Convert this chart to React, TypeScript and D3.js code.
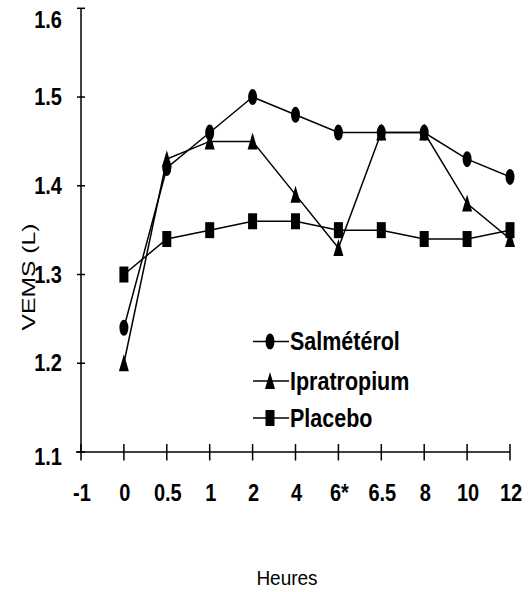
import React, { useRef, useEffect } from 'react';
import * as d3 from 'd3';

const hours = ['-1', '0', '0.5', '1', '2', '4', '6*', '6.5', '8', '10', '12'];
const yTicks = [1.1, 1.2, 1.3, 1.4, 1.5, 1.6];

// values from hour "0" onwards (nothing at -1)
const salmeterol = [1.24, 1.42, 1.46, 1.5, 1.48, 1.46, 1.46, 1.46, 1.43, 1.41];
const ipratropium = [1.2, 1.43, 1.45, 1.45, 1.39, 1.33, 1.46, 1.46, 1.38, 1.34];
const placebo = [1.3, 1.34, 1.35, 1.36, 1.36, 1.35, 1.35, 1.34, 1.34, 1.35];

const seriesNames = ['Salmétérol', 'Ipratropium', 'Placebo'];
const seriesShapes = ['circle', 'triangle', 'square'];

const FONT = '"Liberation Sans", Arial, sans-serif';
const SY = 1.17;

const App: React.FC = () => {
  const svgRef = useRef<SVGSVGElement | null>(null);

  useEffect(() => {
    const svg = d3.select(svgRef.current!);
    svg.selectAll('*').remove();

    const x = d3.scalePoint<string>().domain(hours).range([81, 510]);
    const y = d3.scaleLinear().domain([1.1, 1.6]).range([452, 8.3]);

    const drawMarker = (g: d3.Selection<SVGGElement, unknown, null, undefined>, shape: string, cx: number, cy: number) => {
      if (shape === 'circle') {
        g.append('ellipse').attr('cx', cx).attr('cy', cy).attr('rx', 4.5).attr('ry', 8).attr('fill', '#000');
      } else if (shape === 'square') {
        g.append('rect').attr('x', cx - 4.5).attr('y', cy - 8).attr('width', 9).attr('height', 16).attr('fill', '#000');
      } else {
        g.append('path')
          .attr('d', `M${cx},${cy - 9}L${cx + 5},${cy + 8}L${cx - 5},${cy + 8}Z`)
          .attr('fill', '#000');
      }
    };

    // y axis
    svg.append('line')
      .attr('x1', 81).attr('x2', 81).attr('y1', y(1.6)).attr('y2', y(1.1))
      .attr('stroke', '#000').attr('stroke-width', 1.5);
    yTicks.forEach((t) => {
      svg.append('line')
        .attr('x1', 77).attr('x2', 85).attr('y1', y(t)).attr('y2', y(t))
        .attr('stroke', '#000').attr('stroke-width', 1.5);
      // end labels are nudged inside / below the frame as in the original
      let ly = y(t) + 8;
      if (t === 1.6) ly += 12;
      if (t === 1.1) ly += 5;
      svg.append('text')
        .attr('transform', `translate(62,${ly}) scale(1,${SY})`)
        .attr('text-anchor', 'end')
        .attr('font-family', FONT).attr('font-weight', 'bold').attr('font-size', 20)
        .text(d3.format('.1f')(t));
    });

    // x axis
    svg.append('line')
      .attr('x1', 76).attr('x2', x('12')!).attr('y1', 452).attr('y2', 452)
      .attr('stroke', '#000').attr('stroke-width', 1.5);
    hours.forEach((h) => {
      const px = x(h)!;
      svg.append('line')
        .attr('x1', px).attr('x2', px).attr('y1', 444).attr('y2', 460.5)
        .attr('stroke', '#000').attr('stroke-width', 1.5);
      svg.append('text')
        .attr('transform', `translate(${px + 1},500.5) scale(1,${SY})`)
        .attr('text-anchor', 'middle')
        .attr('font-family', FONT).attr('font-weight', 'bold').attr('font-size', 20)
        .text(h);
    });

    // series
    const all = [salmeterol, ipratropium, placebo];
    const cats = hours.slice(1);
    const line = d3.line<number>()
      .x((_, i) => x(cats[i])!)
      .y((d) => y(d));

    all.forEach((vals, si) => {
      const g = svg.append('g');
      g.append('path')
        .datum(vals)
        .attr('fill', 'none')
        .attr('stroke', '#000')
        .attr('stroke-width', 1.5)
        .attr('d', line);
      vals.forEach((v, i) => drawMarker(g, seriesShapes[si], x(cats[i])!, y(v)));
    });

    // legend
    const legendY = [341.5, 381, 418];
    seriesNames.forEach((name, i) => {
      const g = svg.append('g');
      g.append('line')
        .attr('x1', 253).attr('x2', 289).attr('y1', legendY[i]).attr('y2', legendY[i])
        .attr('stroke', '#000').attr('stroke-width', 1.5);
      drawMarker(g, seriesShapes[i], 270, legendY[i]);
      g.append('text')
        .attr('transform', `translate(290,${legendY[i] + 8.5}) scale(1,${SY})`)
        .attr('font-family', FONT).attr('font-weight', 'bold').attr('font-size', 21.5)
        .text(name);
    });

    // axis titles
    svg.append('text')
      .attr('transform', 'translate(35,277) rotate(-90) scale(1.3,1)')
      .attr('text-anchor', 'middle')
      .attr('font-family', FONT).attr('font-size', 19)
      .text('VEMS (L)');

    svg.append('text')
      .attr('transform', `translate(287,585) scale(1,1.1)`)
      .attr('text-anchor', 'middle')
      .attr('font-family', FONT).attr('font-size', 19)
      .text('Heures');
  }, []);

  return (
    <svg
      ref={svgRef}
      width={529}
      height={592}
      style={{ position: 'absolute', left: 0, top: 0, background: '#fff' }}
    />
  );
};

export default App;
